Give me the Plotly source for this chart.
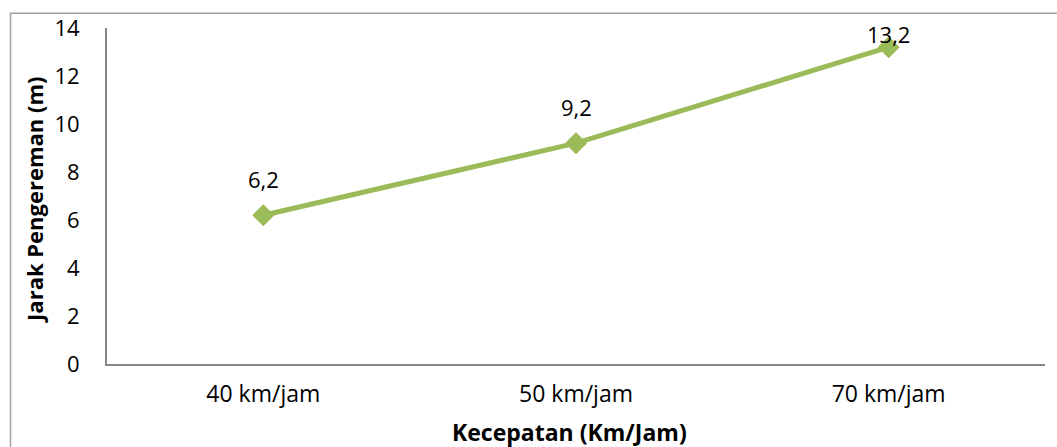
import plotly.graph_objects as go

# Braking distance at each speed
categories = ["40 km/jam", "50 km/jam", "70 km/jam"]
distances = [6.2, 9.2, 13.2]
y_ticks = [0, 2, 4, 6, 8, 10, 12, 14]

W, H = 1057, 447
M_L, M_R, M_T, M_B = 107, 12, 22, 83
Y_MAX = 14
plot_h = H - M_T - M_B
plot_w = W - M_L - M_R

FONT = "Open Sans"
GREEN = "#9BBB59"
AXIS = "#868686"

fig = go.Figure()
fig.add_trace(go.Scatter(
    x=categories, y=distances,
    mode="lines+markers",
    line=dict(color=GREEN, width=5),
    marker=dict(symbol="diamond", size=17, color=GREEN),
    hoverinfo="skip", showlegend=False,
))

# value labels above each point, kept inside the top of the chart
annotations = []
for c, v in zip(categories, distances):
    py = M_T + (Y_MAX - v) / Y_MAX * plot_h
    label_y = max(py - 36, 28)
    annotations.append(dict(
        x=c, y=v, xref="x", yref="y", yshift=py - label_y,
        text=f"{v:.1f}".replace(".", ","), showarrow=False,
        font=dict(family=FONT, size=22, color="#000000"),
        xanchor="center", yanchor="middle",
    ))

annotations.append(dict(
    x=(569 - M_L) / plot_w, y=(H - M_B - 433) / plot_h, xref="paper", yref="paper",
    text="<b>Kecepatan (Km/Jam)</b>", showarrow=False,
    font=dict(family=FONT, size=23, color="#000000"),
    xanchor="center", yanchor="middle",
))
annotations.append(dict(
    x=(34 - M_L) / plot_w, y=(H - M_B - 197) / plot_h, xref="paper", yref="paper",
    text="<b>Jarak Pengereman (m)</b>", showarrow=False, textangle=-90,
    font=dict(family=FONT, size=22, color="#000000"),
    xanchor="center", yanchor="middle",
))

fig.update_layout(
    width=W, height=H,
    margin=dict(l=M_L, r=M_R, t=M_T, b=M_B),
    paper_bgcolor="white", plot_bgcolor="white",
    annotations=annotations,
    xaxis=dict(
        type="category", range=[-0.5, 2.5],
        showline=True, linecolor=AXIS, linewidth=2,
        showgrid=False, zeroline=False, ticks="",
        tickfont=dict(family=FONT, size=23, color="#000000"),
        ticklabelstandoff=8,
    ),
    yaxis=dict(
        range=[0, Y_MAX], tickvals=y_ticks,
        showline=True, linecolor=AXIS, linewidth=2,
        showgrid=False, zeroline=False, ticks="",
        tickfont=dict(family=FONT, size=22, color="#000000"),
        ticklabelstandoff=21,
    ),
    shapes=[dict(
        type="rect", xref="paper", yref="paper",
        x0=(10.5 - M_L) / plot_w, x1=1.2,
        y0=-0.5, y1=(H - M_B - 7) / plot_h,
        line=dict(color="#A0A0A0", width=1.5), layer="below",
    )],
)

fig.write_html("out.html")
